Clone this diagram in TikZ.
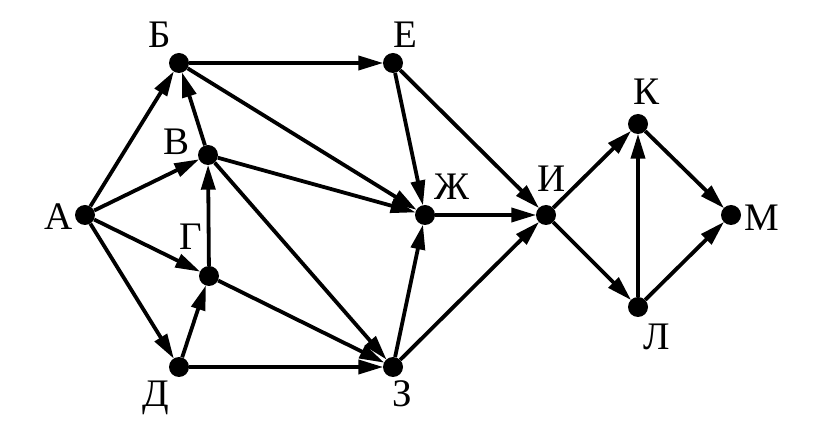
\documentclass[tikz,border=0pt]{standalone}
\usepackage{fontspec}
\setmainfont{Liberation Serif}
\usetikzlibrary{arrows.meta}
\begin{document}
\begin{tikzpicture}[x=1pt,y=-1pt,
  dot/.style={circle,fill=black,inner sep=0pt,minimum size=20pt},
  lbl/.style={anchor=base,inner sep=0pt,font=\fontsize{39}{42}\selectfont},
  edge/.style={line width=3.8pt,-{Triangle[length=25pt,width=14pt]},shorten >=-0.5pt}]
\useasboundingbox (0,0) rectangle (831,438);
\node[dot] (A) at (85,215) {};
\node[dot] (B) at (179,63) {};
\node[dot] (V) at (208,155) {};
\node[dot] (G) at (209,276) {};
\node[dot] (D) at (179,367) {};
\node[dot] (E) at (393,63) {};
\node[dot] (Zh) at (425,215) {};
\node[dot] (Z) at (393,367) {};
\node[dot] (I) at (546,215) {};
\node[dot] (K) at (638,124) {};
\node[dot] (L) at (638,307) {};
\node[dot] (M) at (731,215) {};
\node[lbl] (lA) at (59,230) {А};
\node[lbl] (lB) at (160,48) {Б};
\node[lbl] (lV) at (177,155) {В};
\node[lbl] (lG) at (191,250) {Г};
\node[lbl] (lD) at (156,407) {Д};
\node[lbl] (lE) at (405,48) {Е};
\node[lbl] (lZh) at (452,200) {Ж};
\node[lbl] (lZ) at (402,407) {З};
\node[lbl] (lI) at (552,192) {И};
\node[lbl] (lK) at (647,105) {К};
\node[lbl] (lL) at (657,350) {Л};
\node[lbl] (lM) at (762,231) {М};
\foreach \a/\b in {A/B,A/V,A/G,A/D,B/E,B/Zh,V/B,V/Zh,V/Z,G/V,G/Z,D/G,D/Z,E/Zh,E/I,Zh/I,Z/Zh,Z/I,I/K,I/L,K/M,L/K,L/M}
  \draw[edge] (\a) -- (\b);
\end{tikzpicture}
\end{document}
